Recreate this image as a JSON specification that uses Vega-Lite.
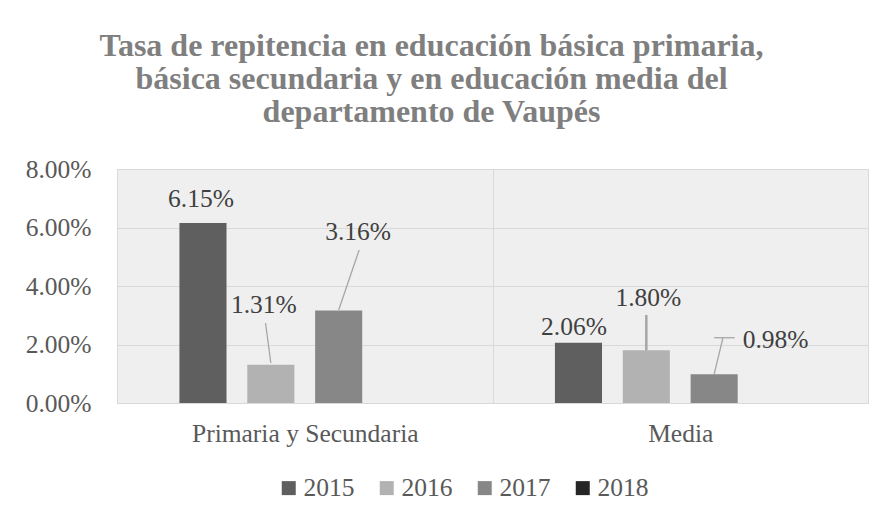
{
  "$schema": "https://vega.github.io/schema/vega-lite/v6.json",
  "autosize": {"type": "none"},
  "width": 751,
  "height": 234,
  "padding": {"left": 117, "top": 169, "right": 19, "bottom": 118},
  "background": "white",
  "config": {
    "view": {"stroke": "#d9d9d9", "strokeWidth": 1, "fill": "#efefef"}
  },
  "title": {
    "text": ["Tasa de repitencia en educación básica primaria,", "básica secundaria y en educación media del", "departamento de Vaupés"],
    "font": "Liberation Serif",
    "fontSize": 32,
    "fontWeight": "bold",
    "color": "#7f7f7f",
    "lineHeight": 33,
    "anchor": "middle",
    "frame": "group",
    "dx": -61,
    "offset": 28
  },
  "data": {
    "values": [
      {"categoria": "Primaria y Secundaria", "anio": "2015", "tasa": 0.0615},
      {"categoria": "Primaria y Secundaria", "anio": "2016", "tasa": 0.0131},
      {"categoria": "Primaria y Secundaria", "anio": "2017", "tasa": 0.0316},
      {"categoria": "Primaria y Secundaria", "anio": "2018", "tasa": null},
      {"categoria": "Media", "anio": "2015", "tasa": 0.0206},
      {"categoria": "Media", "anio": "2016", "tasa": 0.0180},
      {"categoria": "Media", "anio": "2017", "tasa": 0.0098},
      {"categoria": "Media", "anio": "2018", "tasa": null}
    ]
  },
  "encoding": {
    "x": {
      "field": "categoria",
      "type": "nominal",
      "sort": ["Primaria y Secundaria", "Media"],
      "scale": {"paddingInner": 0, "paddingOuter": 0},
      "axis": {
        "title": null,
        "labelAngle": 0,
        "domain": true,
        "domainColor": "#d9d9d9",
        "ticks": false,
        "grid": true,
        "tickBand": "extent",
        "gridColor": "#d9d9d9",
        "labelFont": "Liberation Serif",
        "labelFontSize": 25.5,
        "labelColor": "#595959",
        "labelPadding": 18,
        "labelBaseline": "top",
        "labelLimit": 500
      }
    },
    "xOffset": {
      "field": "anio",
      "type": "nominal",
      "scale": {"domain": ["2015", "2016", "2017", "2018"], "paddingInner": 0.306, "paddingOuter": 0.92}
    },
    "y": {
      "field": "tasa",
      "type": "quantitative",
      "scale": {"domain": [0, 0.08]},
      "axis": {
        "title": null,
        "format": ".2%",
        "values": [0, 0.02, 0.04, 0.06, 0.08],
        "grid": true,
        "gridColor": "#d9d9d9",
        "domain": false,
        "ticks": false,
        "labelFont": "Liberation Serif",
        "labelFontSize": 25.5,
        "labelColor": "#595959",
        "labelPadding": 26
      }
    }
  },
  "layer": [
    {
      "mark": {"type": "bar"},
      "encoding": {
        "color": {
          "field": "anio",
          "type": "nominal",
          "scale": {"domain": ["2015", "2016", "2017", "2018"], "range": ["#5f5f5f", "#b2b2b2", "#878787", "#262626"]},
          "legend": {
            "title": null,
            "orient": "none",
            "legendX": 159,
            "legendY": 306,
            "direction": "horizontal",
            "symbolType": "square",
            "symbolSize": 196,
            "symbolStrokeWidth": 0,
            "labelFont": "Liberation Serif",
            "labelFontSize": 25.5,
            "labelColor": "#595959",
            "labelOffset": 2,
            "columnPadding": 19
          }
        }
      }
    },
    {
      "transform": [{"filter": "datum.categoria == 'Primaria y Secundaria' && datum.anio == '2016'"}],
      "mark": {"type": "rule", "color": "#a6a6a6", "strokeWidth": 1.3, "yOffset": -1.7, "y2Offset": -41.7, "x2Offset": -39.2},
      "encoding": {"x2": {"field": "categoria"}, "y2": {"field": "tasa"}}
    },
    {
      "transform": [{"filter": "datum.categoria == 'Primaria y Secundaria' && datum.anio == '2017'"}],
      "mark": {"type": "rule", "color": "#a6a6a6", "strokeWidth": 1.3, "xOffset": 0.5, "yOffset": -0.6, "y2Offset": -60.6, "x2Offset": 54.4},
      "encoding": {"x2": {"field": "categoria"}, "y2": {"field": "tasa"}}
    },
    {
      "transform": [{"filter": "datum.categoria == 'Media' && datum.anio == '2016'"}],
      "mark": {"type": "rule", "color": "#a6a6a6", "strokeWidth": 2.5, "xOffset": 2, "yOffset": 0, "y2Offset": -35.4},
      "encoding": {"y2": {"field": "tasa"}}
    },
    {
      "transform": [{"filter": "datum.categoria == 'Media' && datum.anio == '2017'"}],
      "mark": {"type": "rule", "color": "#a6a6a6", "strokeWidth": 1.3, "xOffset": 0.5, "yOffset": -0.3, "y2Offset": -36.6, "x2Offset": 42.7},
      "encoding": {"x2": {"field": "categoria"}, "y2": {"field": "tasa"}}
    },
    {
      "transform": [{"filter": "datum.categoria == 'Media' && datum.anio == '2017'"}],
      "mark": {"type": "rule", "color": "#a6a6a6", "strokeWidth": 1.3, "xOffset": 8.8, "yOffset": -36.6, "y2Offset": -36.6, "x2Offset": 54.4},
      "encoding": {"x2": {"field": "categoria"}, "y2": {"field": "tasa"}}
    },
    {
      "transform": [{"filter": "datum.categoria == 'Primaria y Secundaria' && datum.anio == '2015'"}],
      "mark": {"type": "text", "font": "Liberation Serif", "fontSize": 25.5, "color": "#404040", "baseline": "alphabetic", "align": "center", "dx": -2, "dy": -16},
      "encoding": {"text": {"field": "tasa", "type": "quantitative", "format": ".2%"}}
    },
    {
      "transform": [{"filter": "datum.categoria == 'Primaria y Secundaria' && datum.anio == '2016'"}],
      "mark": {"type": "text", "font": "Liberation Serif", "fontSize": 25.5, "color": "#404040", "baseline": "alphabetic", "align": "center", "dx": -7, "dy": -52},
      "encoding": {"text": {"field": "tasa", "type": "quantitative", "format": ".2%"}}
    },
    {
      "transform": [{"filter": "datum.categoria == 'Primaria y Secundaria' && datum.anio == '2017'"}],
      "mark": {"type": "text", "font": "Liberation Serif", "fontSize": 25.5, "color": "#404040", "baseline": "alphabetic", "align": "center", "dx": 19.5, "dy": -70.6},
      "encoding": {"text": {"field": "tasa", "type": "quantitative", "format": ".2%"}}
    },
    {
      "transform": [{"filter": "datum.categoria == 'Media' && datum.anio == '2015'"}],
      "mark": {"type": "text", "font": "Liberation Serif", "fontSize": 25.5, "color": "#404040", "baseline": "alphabetic", "align": "center", "dx": -4.5, "dy": -8},
      "encoding": {"text": {"field": "tasa", "type": "quantitative", "format": ".2%"}}
    },
    {
      "transform": [{"filter": "datum.categoria == 'Media' && datum.anio == '2016'"}],
      "mark": {"type": "text", "font": "Liberation Serif", "fontSize": 25.5, "color": "#404040", "baseline": "alphabetic", "align": "center", "dx": 2, "dy": -44.4},
      "encoding": {"text": {"field": "tasa", "type": "quantitative", "format": ".2%"}}
    },
    {
      "transform": [{"filter": "datum.categoria == 'Media' && datum.anio == '2017'"}],
      "mark": {"type": "text", "font": "Liberation Serif", "fontSize": 25.5, "color": "#404040", "baseline": "alphabetic", "align": "center", "dx": 61.5, "dy": -26},
      "encoding": {"text": {"field": "tasa", "type": "quantitative", "format": ".2%"}}
    }
  ]
}
